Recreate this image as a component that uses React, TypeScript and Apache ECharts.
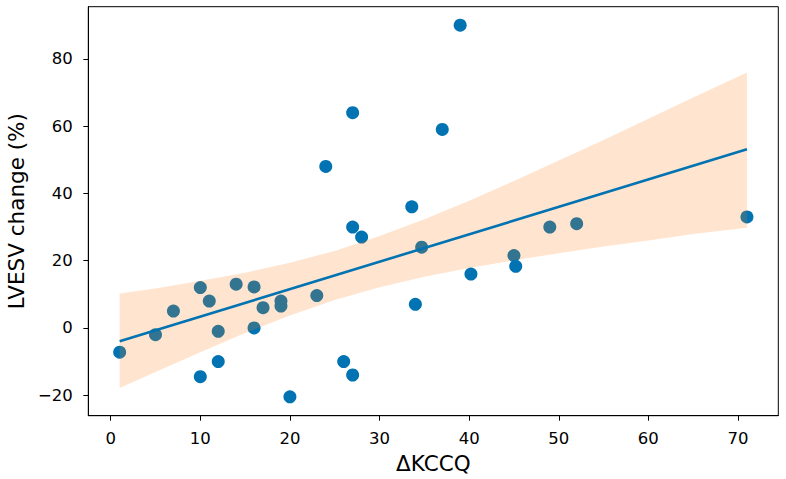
import React, { useEffect, useRef } from "react";
import * as echarts from "echarts";

// Patient-level changes: ΔKCCQ vs LVESV change (%)
const kccq = [1, 5, 7, 10, 10, 11, 12, 12, 14, 16, 16, 17, 19, 19, 20, 23, 24, 26, 27, 27, 27, 28, 33.6, 34, 34.7, 37, 39, 40.2, 45, 45.2, 49, 52, 71];
const lvesv = [-7.2, -2, 5, 12, -14.5, 8, -1, -10, 13, 12.2, 0, 6, 8, 6.5, -20.5, 9.6, 48, -10, 64, 30, -14, 27, 36, 7, 24, 59, 90, 16, 21.5, 18.3, 30, 31, 33];

// Regression line end points
const fitX = [1, 71];
const fitY = [-3.96, 53.1];

// 95% confidence band of the regression
const bandX = [1, 5, 10, 15, 20, 25, 30, 35, 40, 45, 50, 55, 60, 65, 71];
const bandUpper = [10.2, 11.7, 14.0, 16.4, 19.4, 22.9, 27.3, 32.3, 37.8, 43.7, 49.8, 55.9, 62.2, 68.5, 75.9];
const bandLower = [-17.9, -13.1, -7.2, -1.5, 3.7, 8.3, 12.1, 15.2, 17.8, 20.1, 22.2, 24.2, 26.0, 27.9, 29.8];

// Tick labels
const xTicks = [0, 10, 20, 30, 40, 50, 60, 70];
const yTicks = [-20, 0, 20, 40, 60, 80];

const X_MIN = -2.5;
const X_MAX = 74.5;
const Y_MIN = -26.1;
const Y_MAX = 95.5;

const W = 786;
const H = 479;
const GRID = { left: 88.3, right: 7.7, top: 6.7, bottom: 63.3 };

const BLUE = "#0173b2";
const FONT = "DejaVu Sans";

export default function App() {
  const ref = useRef<HTMLDivElement>(null);

  useEffect(() => {
    if (!ref.current) return;
    const chart = echarts.init(ref.current, null, { renderer: "svg" });
    const fmt = (v: number) => String(v).replace("-", "\u2212");
    const axisLine = { show: true, onZero: false, lineStyle: { color: "#000", width: 1 } };

    chart.setOption({
      animation: false,
      backgroundColor: "#ffffff",
      grid: { ...GRID, outerBoundsMode: "none", containLabel: false },
      // Full box frame around the plotting area
      graphic: [
        {
          type: "rect",
          silent: true,
          z: 100,
          shape: {
            x: GRID.left,
            y: GRID.top,
            width: W - GRID.left - GRID.right,
            height: H - GRID.top - GRID.bottom,
          },
          style: { fill: null, stroke: "#000", lineWidth: 1 },
        },
      ],
      xAxis: {
        type: "value",
        min: X_MIN,
        max: X_MAX,
        name: "\u0394KCCQ",
        nameLocation: "middle",
        nameGap: 37,
        nameTextStyle: { fontFamily: FONT, fontSize: 21.5, color: "#000" },
        splitLine: { show: false },
        axisLine,
        axisTick: { show: true, length: 5, lineStyle: { color: "#000", width: 1 }, customValues: xTicks },
        axisLabel: {
          fontFamily: FONT,
          fontSize: 16.5,
          color: "#000",
          margin: 14,
          customValues: xTicks,
          formatter: fmt,
        },
      },
      yAxis: {
        type: "value",
        min: Y_MIN,
        max: Y_MAX,
        name: "LVESV change (%)",
        nameLocation: "middle",
        nameGap: 61,
        nameTextStyle: { fontFamily: FONT, fontSize: 21.5, color: "#000" },
        splitLine: { show: false },
        axisLine,
        axisTick: { show: true, length: 5, lineStyle: { color: "#000", width: 1 }, customValues: yTicks },
        axisLabel: {
          fontFamily: FONT,
          fontSize: 16.5,
          color: "#000",
          margin: 15.5,
          customValues: yTicks,
          formatter: fmt,
        },
      },
      series: [
        {
          type: "scatter",
          z: 2,
          symbol: "circle",
          symbolSize: 13,
          itemStyle: { color: BLUE, opacity: 1 },
          data: kccq.map((x, i) => [x, lvesv[i]]),
        },
        {
          type: "custom",
          z: 3,
          silent: true,
          data: [[bandX[0], bandLower[0]]],
          renderItem: (_params: any, api: any) => {
            const top = bandX.map((x, i) => api.coord([x, bandUpper[i]]));
            const bottom = bandX.map((x, i) => api.coord([x, bandLower[i]])).reverse();
            return {
              type: "polygon",
              shape: { points: top.concat(bottom) },
              style: { fill: "rgba(255,127,14,0.2)", stroke: "none" },
            };
          },
        },
        {
          type: "line",
          z: 4,
          symbol: "none",
          lineStyle: { color: BLUE, width: 2.6 },
          data: fitX.map((x, i) => [x, fitY[i]]),
        },
      ],
    });

    return () => chart.dispose();
  }, []);

  return <div ref={ref} style={{ position: "absolute", left: 0, top: 0, width: W, height: H }} />;
}
